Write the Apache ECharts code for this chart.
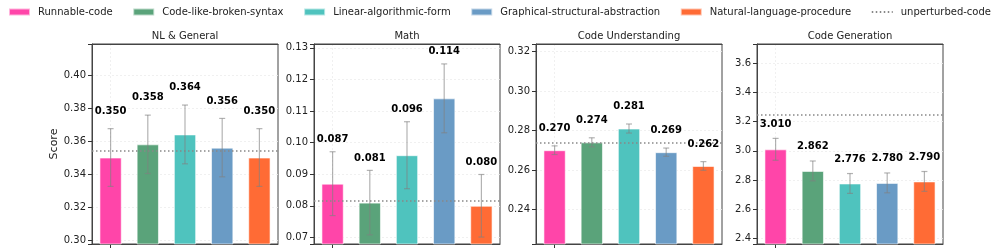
<!DOCTYPE html>
<html><head><meta charset="utf-8">
<script src="https://cdn.jsdelivr.net/npm/echarts@6/dist/echarts.min.js"></script>
<style>html,body{margin:0;padding:0;background:#fff}#c{width:997px;height:251px}</style>
</head><body><div id="c"></div>
<script>
// ---- data ----
const methods = ['Runnable-code','Code-like-broken-syntax','Linear-algorithmic-form','Graphical-structural-abstraction','Natural-language-procedure'];
const panels = ['NL & General','Math','Code Understanding','Code Generation'];
const nlMean = [0.350,0.358,0.364,0.356,0.350];
const nlErr  = [0.0175,0.0177,0.0178,0.0177,0.0175];
const mathMean = [0.087,0.081,0.096,0.114,0.080];
const mathErr  = [0.0101,0.0102,0.0106,0.0109,0.0099];
const cuMean = [0.270,0.274,0.281,0.269,0.262];
const cuErr  = [0.0022,0.0023,0.0023,0.0021,0.0022];
const cgMean = [3.010,2.862,2.776,2.780,2.790];
const cgErr  = [0.075,0.068,0.068,0.068,0.068];
const baseline = [0.354,0.0816,0.274,3.245];
const yMin  = [0.2976,0.0679,0.2224,2.361];
const yMax  = [0.4188,0.1312,0.3239,3.732];
const yStep = [0.02,0.01,0.02,0.2];
const yDec  = [2,2,2,1];

// ---- style ----
const means = [nlMean, mathMean, cuMean, cgMean];
const errs = [nlErr, mathErr, cuErr, cgErr];
const colors = ['#FF45A9','#5AA37A','#4FC3BE','#6A9BC5','#FF6B35'];
const gridLeft = [92,314,536,757];
const GW = 186, GT = 44, GH = 200;
const labelLift = [17.4,12.3,17.4,14.3];
const FONT = '"DejaVu Sans", sans-serif';

const grids=[], xAxes=[], yAxes=[], series=[], titles=[], topAxes=[];
panels.forEach((p,i)=>{
  grids.push({left:gridLeft[i], top:GT, width:GW, height:GH, show:true, borderColor:'#444', borderWidth:1, backgroundColor:'#fff', containLabel:false});
  titles.push({text:p, left:gridLeft[i]+GW/2, textAlign:'center', top:31, padding:0,
    textStyle:{fontSize:10, fontWeight:'normal', color:'#222', fontFamily:FONT}});
  xAxes.push({type:'category', gridIndex:i, data:methods, boundaryGap:true,
    axisLine:{show:true, lineStyle:{color:'#444', width:1}}, axisLabel:{show:false},
    axisTick:{show:true, alignWithLabel:true, length:4, lineStyle:{color:'#333'}},
    splitLine:{show:true, alignWithLabel:true, lineStyle:{color:'#ececec', type:[2,2], width:0.8}}});
  topAxes.push({type:'category', gridIndex:i, position:'top', data:methods, boundaryGap:true,
    axisLine:{show:true, lineStyle:{color:'#444', width:1}}, axisLabel:{show:false},
    axisTick:{show:false}, splitLine:{show:false}});
  const st = yStep[i], d = yDec[i];
  yAxes.push({type:'value', gridIndex:i, min:yMin[i], max:yMax[i], minInterval:st, maxInterval:st, splitNumber:6,
    axisLine:{show:true, lineStyle:{color:'#444', width:1}},
    axisTick:{show:true, length:4, lineStyle:{color:'#333'}},
    axisLabel:{fontSize:10, color:'#222', fontFamily:FONT, margin:6,
      formatter:v=>Math.abs(v/st-Math.round(v/st))<1e-6 ? v.toFixed(d) : ''},
    splitLine:{show:true, showMinLine:false, showMaxLine:false, lineStyle:{color:'#ececec', type:[2,2], width:0.8}},
    name: i===0 ? 'Score' : '', nameLocation:'middle', nameGap:30,
    nameTextStyle:{fontSize:11, color:'#222', fontFamily:FONT}});
  methods.forEach((m,j)=>{
    const arr = methods.map(()=> '-'); arr[j] = means[i][j];
    series.push({type:'bar', name:m, xAxisIndex:i, yAxisIndex:i, data:arr, barWidth:'60%', barGap:'-100%',
      itemStyle:{color:colors[j], borderColor:'rgba(255,255,255,0.6)', borderWidth:1}, z:2, animation:false});
  });
  series.push({type:'line', name:'unperturbed-code', xAxisIndex:i, yAxisIndex:i, data:[], symbol:'none',
    lineStyle:{color:'#888', type:[1.5,2.5], width:1.5}, itemStyle:{color:'#888'}, animation:false, z:4,
    markLine:{silent:true, precision:6, symbol:['none','none'], label:{show:false}, animation:false,
      lineStyle:{color:'#888', type:[1.5,2.5], width:1.5}, data:[{yAxis:baseline[i]}]}});
  const lift = labelLift[i];
  series.push({type:'custom', name:'err'+i, xAxisIndex:i, yAxisIndex:i, z:5, animation:false, silent:true,
    encode:{x:0, y:1},
    data: methods.map((m,j)=>[j, means[i][j], errs[i][j]]),
    renderItem:(params, api)=>{
      const x=api.value(0), mv=api.value(1), e=api.value(2);
      const t=api.coord([x, mv+e]), b=api.coord([x, mv-e]);
      const cx=t[0];
      const ls={stroke:'rgba(128,128,128,0.6)', lineWidth:1.2};
      return {type:'group', children:[
        {type:'line', shape:{x1:cx,y1:t[1],x2:cx,y2:b[1]}, style:ls},
        {type:'line', shape:{x1:cx-3,y1:t[1],x2:cx+3,y2:t[1]}, style:ls},
        {type:'line', shape:{x1:cx-3,y1:b[1],x2:cx+3,y2:b[1]}, style:ls},
        {type:'text', style:{text:mv.toFixed(3), x:cx, y:t[1]-lift, align:'center', verticalAlign:'middle',
          fontSize:10, fontWeight:'bold', fontFamily:FONT, fill:'#000'}}
      ]};
    }});
});

const chart = echarts.init(document.getElementById('c'), null, {renderer:'canvas'});
chart.setOption({
  animation:false,
  textStyle:{fontFamily:FONT},
  title:titles,
  legend:{left:8, top:7, padding:0, itemWidth:21, itemHeight:7, itemGap:19.6,
    textStyle:{fontSize:10, color:'#222', fontFamily:FONT, padding:[0,0,0,3]},
    data: methods.map(m=>({name:m, icon:'rect'})).concat([{name:'unperturbed-code', itemStyle:{opacity:0}}])},
  grid:grids, xAxis:xAxes.concat(topAxes), yAxis:yAxes, series:series
});
</script></body></html>
